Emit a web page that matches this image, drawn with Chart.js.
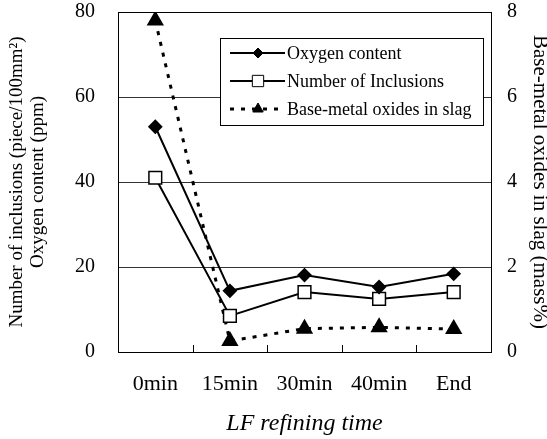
<!DOCTYPE html>
<html>
<head>
<meta charset="utf-8">
<script src="https://cdn.jsdelivr.net/npm/chart.js@4.4.1/dist/chart.umd.min.js"></script>
<style>
  html, body { margin: 0; padding: 0; background: #fff; }
  #wrap { width: 547px; height: 439px; }
</style>
</head>
<body>
<div id="wrap"><canvas id="myChart" width="547" height="439"></canvas></div>
<script>
const times = ["0min", "15min", "30min", "40min", "End"];
const oxygenContent = [53, 14.4, 18.1, 15.3, 18.4];
const inclusionCount = [41, 8.5, 14.1, 12.5, 14.1];
const slagOxides = [7.8, 0.26, 0.55, 0.58, 0.54];
const leftTicks = [0, 20, 40, 60, 80];
const rightTicks = [0, 2, 4, 6, 8];

const serif = "'Liberation Serif', 'Times New Roman', serif";

// border box + small inward ticks on x axis
const frame = {
  id: "frame",
  afterDraw(chart) {
    const { ctx, chartArea: a, scales } = chart;
    ctx.save();
    ctx.strokeStyle = "#000";
    ctx.lineWidth = 1;
    ctx.strokeRect(Math.round(a.left) + 0.5, Math.round(a.top) + 0.5,
      Math.round(a.right - a.left), Math.round(a.bottom - a.top));
    const half = (scales.x.getPixelForValue(1) - scales.x.getPixelForValue(0)) / 2;
    for (let i = 0; i < times.length - 1; i++) {
      const px = Math.round(scales.x.getPixelForValue(i) + half) + 0.5;
      ctx.beginPath();
      ctx.moveTo(px, a.bottom);
      ctx.lineTo(px, a.bottom - 7);
      ctx.stroke();
    }
    ctx.restore();
  },
};

// legend box inside the plot
const boxLegend = {
  id: "boxLegend",
  afterDraw(chart) {
    const { ctx } = chart;
    const x = 220, y = 38, w = 263, h = 87;
    ctx.save();
    ctx.fillStyle = "#fff";
    ctx.fillRect(x, y, w, h);
    ctx.strokeStyle = "#000";
    ctx.lineWidth = 1;
    ctx.strokeRect(x + 0.5, y + 0.5, w, h);
    ctx.font = "18px " + serif;
    ctx.textBaseline = "middle";
    chart.data.datasets.forEach((ds, i) => {
      const cy = y + 15 + i * 28;
      ctx.strokeStyle = "#000";
      ctx.lineWidth = ds.borderWidth;
      ctx.setLineDash(ds.borderDash || []);
      ctx.beginPath();
      ctx.moveTo(x + 10, cy);
      ctx.lineTo(x + 65, cy);
      ctx.stroke();
      ctx.setLineDash([]);
      ctx.fillStyle = ds.pointBackgroundColor;
      ctx.strokeStyle = "#000";
      ctx.lineWidth = 1;
      Chart.helpers.drawPoint(ctx, {
        pointStyle: ds.pointStyle,
        radius: ds.legendRadius,
        borderWidth: 1,
      }, x + 38, cy);
      ctx.fillStyle = "#000";
      ctx.fillText(ds.label, x + 67, cy + 1);
    });
    ctx.restore();
  },
};

function noPad(s) {
  s.paddingTop = 0;
  s.paddingBottom = 0;
  s.paddingLeft = 0;
  s.paddingRight = 0;
}

new Chart(document.getElementById("myChart"), {
  type: "line",
  data: {
    labels: times,
    datasets: [
      {
        label: "Oxygen content",
        data: oxygenContent,
        yAxisID: "y",
        borderColor: "#000",
        borderWidth: 2,
        pointStyle: "rectRot",
        pointRadius: 6,
        legendRadius: 5,
        pointBackgroundColor: "#000",
        pointBorderColor: "#000",
      },
      {
        label: "Number of Inclusions",
        data: inclusionCount,
        yAxisID: "y",
        borderColor: "#000",
        borderWidth: 2,
        pointStyle: "rect",
        pointRadius: 9,
        legendRadius: 8,
        pointBackgroundColor: "#fff",
        pointBorderColor: "#000",
        pointBorderWidth: 1.5,
      },
      {
        label: "Base-metal oxides in slag",
        data: slagOxides,
        yAxisID: "y1",
        borderColor: "#000",
        borderWidth: 3,
        borderDash: [4, 7],
        pointStyle: "triangle",
        pointRadius: 7,
        legendRadius: 6,
        pointBackgroundColor: "#000",
        pointBorderColor: "#000",
      },
    ],
  },
  options: {
    responsive: false,
    animation: false,
    layout: { padding: { top: 12, left: 7, right: 0, bottom: 0 } },
    plugins: {
      legend: { display: false },
      tooltip: { enabled: false },
    },
    scales: {
      x: {
        offset: true,
        grid: { display: false, drawTicks: false },
        border: { display: false },
        ticks: { color: "#000", padding: 19, font: { family: serif, size: 22 } },
        title: {
          display: true,
          text: "LF refining time",
          color: "#000",
          padding: { top: 0, bottom: 1 },
          font: { family: serif, size: 24, style: "italic", lineHeight: 1.2 },
        },
        afterFit: (s) => { s.height = 87; noPad(s); },
      },
      y: {
        position: "left",
        min: 0,
        max: 80,
        afterBuildTicks: (s) => { s.ticks = leftTicks.map((v) => ({ value: v })); },
        grid: {
          drawTicks: false,
          color: (c) => (c.tick && (c.tick.value === 0 || c.tick.value === 80) ? "rgba(0,0,0,0)" : "#333"),
        },
        border: { display: false },
        ticks: { color: "#000", padding: 23, font: { family: serif, size: 20 } },
        title: {
          display: true,
          text: ["Number of inclusions (piece/100mm\u00b2)", "Oxygen content (ppm)"],
          color: "#000",
          padding: 0,
          font: { family: serif, size: 19, lineHeight: 1.1 },
        },
        afterFit: (s) => { s.width = 111; noPad(s); },
      },
      y1: {
        position: "right",
        min: 0,
        max: 8,
        afterBuildTicks: (s) => { s.ticks = rightTicks.map((v) => ({ value: v })); },
        grid: { display: false, drawTicks: false },
        border: { display: false },
        ticks: { color: "#000", padding: 16, font: { family: serif, size: 20 } },
        title: {
          display: true,
          text: "Base-metal oxides in slag (mass%)",
          color: "#000",
          padding: 0,
          font: { family: serif, size: 21, lineHeight: 0.7 },
        },
        afterFit: (s) => { s.width = 56; noPad(s); },
      },
    },
  },
  plugins: [frame, boxLegend],
});
</script>
</body>
</html>
